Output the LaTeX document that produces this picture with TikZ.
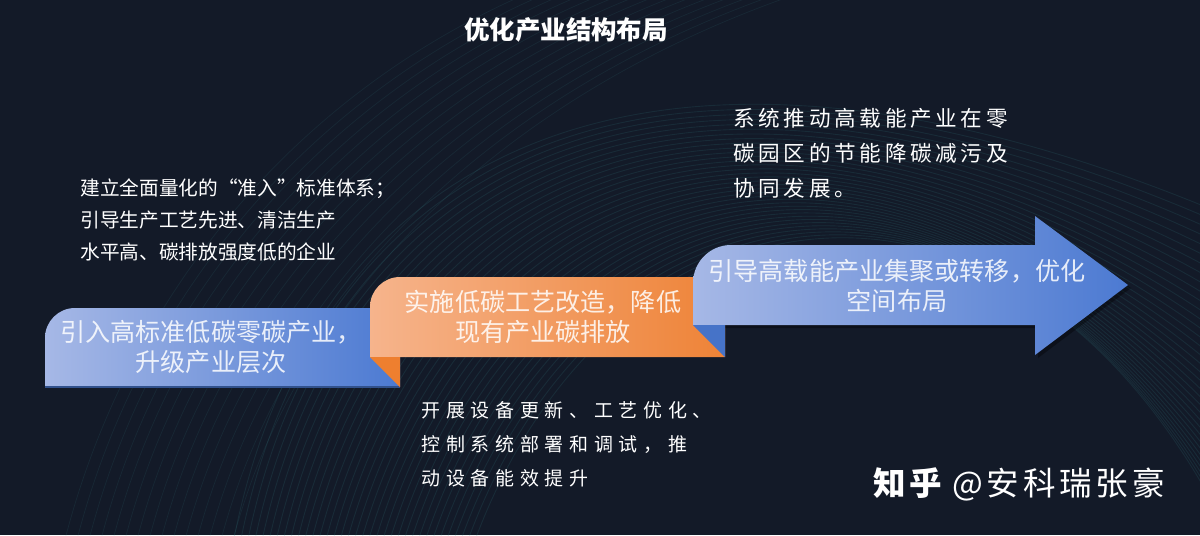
\documentclass[tikz,border=0pt]{standalone}
\usepackage{fontspec}
\setmainfont{Noto Sans CJK SC}
\newfontfamily\cjk{Noto Sans CJK SC}
\newfontfamily\cjkmid[LetterSpace=17]{Noto Sans CJK SC}
\newfontfamily\cjkwide[LetterSpace=30]{Noto Sans CJK SC}
\newfontfamily\cjkwm[LetterSpace=12]{Noto Sans CJK SC}
\definecolor{bg}{HTML}{131A28}
\definecolor{bluL}{HTML}{A6B8E6}
\definecolor{bluR}{HTML}{4C7AD2}
\definecolor{bluD}{HTML}{4673C8}
\definecolor{oraL}{HTML}{F6B48C}
\definecolor{oraR}{HTML}{EE8337}
\definecolor{oraD}{HTML}{EE7F2F}
\definecolor{streak}{HTML}{3A8F93}
\tikzset{
  ribbontext/.style={font=\cjk\fontsize{14.3}{17.2}\selectfont, text=white, text opacity=0.85, align=center, inner sep=0pt},
  notetext/.style={text=white, align=left, anchor=west, inner sep=0pt},
}
\begin{document}
\begin{tikzpicture}[x=0.02cm,y=-0.02cm]
\fill[bg] (0,0) rectangle (1200,535);
\useasboundingbox (0,0) rectangle (1200,535);
% background streaks
\foreach \i in {0,...,34}{
  \draw[streak, opacity=0.15, line width=0.5pt]
    (230+7*\i,560) .. controls (300+9*\i,150) and (650+12*\i,-40+4*\i) .. (1260,230+11*\i);
}
\foreach \i in {0,...,14}{
  \draw[streak, opacity=0.12, line width=0.4pt]
    (60+12*\i,560) .. controls (120+12*\i,300) and (300+15*\i,80) .. (560+20*\i,-20);
}
% ribbon 1 (blue)
\shade[left color=bluL, right color=bluR]
  (45,387) -- (45,338) .. controls (45,321.4) and (58.4,308) .. (75,308)
  -- (400,308) -- (400,387) -- cycle;
\draw[bluD!70!black, line width=0.8pt] (45,387) -- (400,387);
% ribbon 2 (orange)
\shade[left color=oraL, right color=oraR]
  (370,357) -- (370,307) .. controls (370,290.4) and (383.4,277) .. (400,277)
  -- (725,277) -- (725,357) -- cycle;
\fill[oraD] (370,357) -- (400,357) -- (400,387) -- cycle;
% arrow (blue)
\fill[black, opacity=0.35]
  (696,328) -- (696,286) .. controls (696,265) and (713,248) .. (734,248)
  -- (1038,248) -- (1038,219) -- (1131,288) -- (1038,358) -- (1038,328) -- cycle;
\shade[left color=bluL, right color=bluR]
  (693,325) -- (693,283) .. controls (693,262) and (710,245) .. (731,245)
  -- (1035,245) -- (1035,216) -- (1128,285) -- (1035,355) -- (1035,325) -- cycle;
\fill[bluD] (693,325) -- (725,325) -- (725,357) -- cycle;
% ribbon texts
\node[ribbontext] (txtA) at (211,347) {引入高标准低碳零碳产业，\\升级产业层次};
\node[ribbontext] (txtB) at (543,317) {实施低碳工艺改造，降低\\现有产业碳排放};
\node[ribbontext] (txtC) at (897,286) {引导高载能产业集聚或转移，优化\\空间布局};
% title
\node[font=\cjk\bfseries\fontsize{14.5}{17}\selectfont, text=white, inner sep=0pt] (title) at (566,30) {优化产业结构布局};
% notes
\node[notetext, font=\cjk\fontsize{11.2}{18.1}\selectfont] (noteA) at (80,220)
  {建立全面量化的“准入”标准体系；\\引导生产工艺先进、清洁生产\\水平高、碳排放强度低的企业};
\node[notetext, font=\cjkwide\fontsize{10.8}{19.4}\selectfont] (noteB) at (421,444)
  {开展设备更新、工艺优化、\\控制系统部署和调试，推\\动设备能效提升};
\node[notetext, font=\cjkmid\fontsize{12.3}{19.8}\selectfont] (noteC) at (733,153)
  {系统推动高载能产业在零\\碳园区的节能降碳减污及\\协同发展。};
% watermark
\node[notetext, font=\cjkwm\fontsize{18.5}{21}\selectfont] (wm) at (873,484)
  {{\bfseries 知乎}\hspace{0.3em}@安科瑞张豪};
\end{tikzpicture}
\end{document}
